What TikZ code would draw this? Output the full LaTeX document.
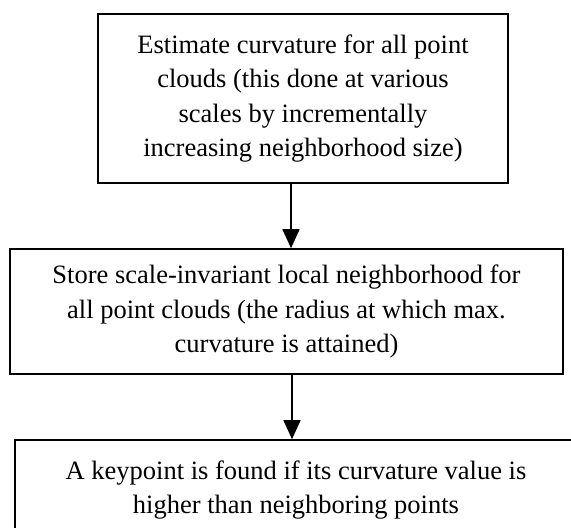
\documentclass[tikz,border=0pt]{standalone}
\usepackage{fontspec}
\setmainfont{Liberation Serif}
\usetikzlibrary{arrows.meta}
\begin{document}
\begin{tikzpicture}[x=1pt,y=-1pt,
  box/.style={draw=black, line width=1.6pt, align=center, inner sep=0pt,
    font=\fontsize{26.5}{34.5}\selectfont},
  flow/.style={line width=1.6pt, -{Triangle[width=17pt,length=19pt]}}]
\useasboundingbox (0,0) rectangle (571,528);
\clip (0,0) rectangle (571,528);
\node[box, minimum width=410pt, minimum height=169pt] (b1) at (303,98.5)
  {Estimate curvature for all point\\clouds (this done at various\\scales by incrementally\\increasing neighborhood size)};
\node[box, minimum width=553pt, minimum height=125pt] (b2) at (286.5,311.5)
  {Store scale-invariant local neighborhood for\\all point clouds (the radius at which max.\\curvature is attained)};
\node[box, minimum width=562pt, minimum height=100pt] (b3) at (296,490)
  {A keypoint is found if its curvature value is\\higher than neighboring points};
\coordinate (ax1) at (291,0);
\coordinate (ax2) at (292,0);
\draw[flow] (b1.south -| ax1) -- (b2.north -| ax1);
\draw[flow] (b2.south -| ax2) -- (b3.north -| ax2);
\end{tikzpicture}
\end{document}
